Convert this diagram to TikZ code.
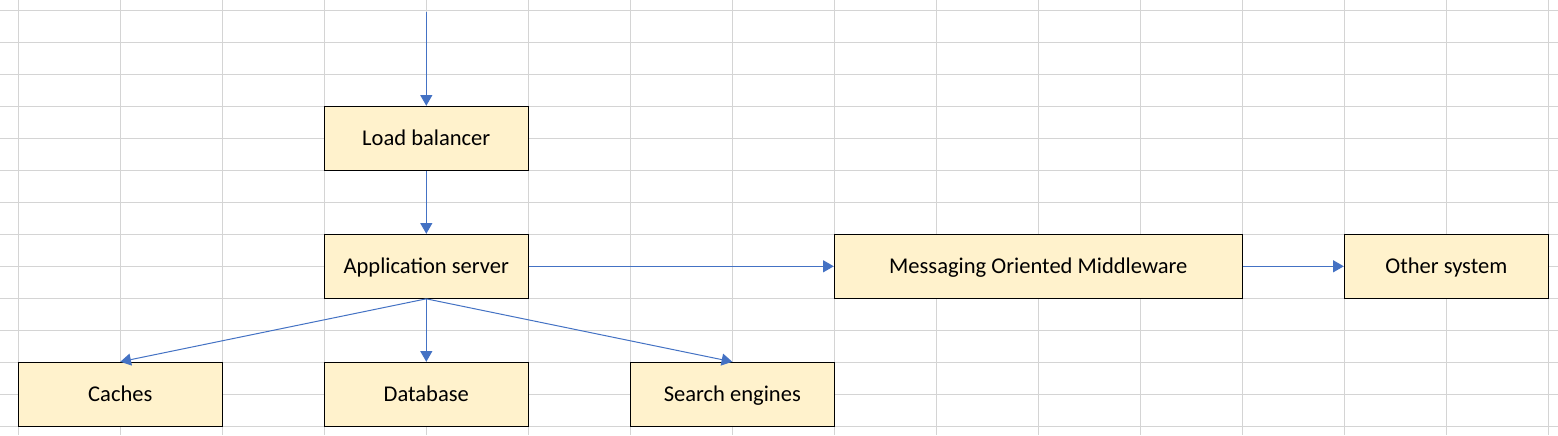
\documentclass[tikz,border=0pt]{standalone}
\usepackage{fontspec}
\setmainfont{Carlito}
\usetikzlibrary{arrows.meta}

\definecolor{cellgrid}{HTML}{D4D4D4}
\definecolor{boxfill}{HTML}{FFF2CC}
\definecolor{linkblue}{HTML}{4472C4}

\tikzset{
  block/.style={draw=black, line width=0.8pt, fill=boxfill, minimum width=153pt, minimum height=48pt, inner sep=0pt, text height=12pt, text depth=0.9pt, align=center, font=\fontsize{16.9}{20}\selectfont},
  link/.style={draw=linkblue, line width=0.75pt, -{Triangle[length=8pt,width=9pt]}},
}

\begin{document}
\begin{tikzpicture}[x=0.75pt, y=-0.75pt]

    % Sheet background
    \useasboundingbox (0,0) rectangle (1558,435);
    \fill[white] (0,0) rectangle (1558,435);
    \foreach \i in {0,...,15}
        \draw[cellgrid, line width=0.75pt] ({18.3+102*\i},0) -- ({18.3+102*\i},435);
    \foreach \j in {0,...,13}
        \draw[cellgrid, line width=0.75pt] (0,{10.3+32*\j}) -- (1558,{10.3+32*\j});

    % Load balancer
    \node[block] (Balancer) at (426.3, 138.3) {Load balancer};

    % Application server
    \node[block] (AppServer) at (426.3, 266.3) {Application server};

    % Back ends
    \node[block] (Caches) at (120.3, 394.3) {Caches};
    \node[block] (Database) at (426.3, 394.3) {Database};
    \node[block] (Search) at (732.3, 394.3) {Search engines};

    % Messaging Oriented Middleware
    \node[block, minimum width=306pt] (Middleware) at (1038.3, 266.3) {Messaging Oriented Middleware};

    % Other system
    \node[block] (Other) at (1446.3, 266.3) {Other system};

    % Connections
    \coordinate (Entry) at (426.3, 12);
    \draw[link] (Entry) -- (Balancer.north);
    \draw[link] (Balancer) -- (AppServer);
    \draw[link] (AppServer.south) -- (Caches.north);
    \draw[link] (AppServer.south) -- (Database.north);
    \draw[link] (AppServer.south) -- (Search.north);
    \draw[link] (AppServer.east) -- (Middleware.west);
    \draw[link] (Middleware.east) -- (Other.west);

\end{tikzpicture}
\end{document}
